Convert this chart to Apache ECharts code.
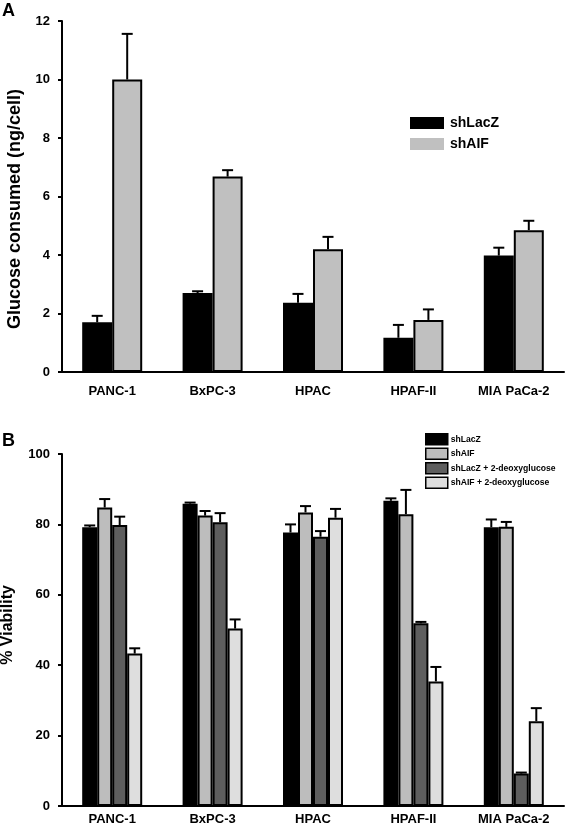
<!DOCTYPE html>
<html>
<head>
<meta charset="utf-8">
<script src="https://cdn.jsdelivr.net/npm/echarts@6/dist/echarts.min.js"></script>
<style>html,body{margin:0;padding:0;background:#fff;}#c{width:565px;height:831px;}</style>
</head>
<body>
<div id="c"></div>
<script>
const categories = ['PANC-1', 'BxPC-3', 'HPAC', 'HPAF-II', 'MIA PaCa-2'];

// Panel A: glucose consumed (ng/cell)
const glucoseTicks = [0, 2, 4, 6, 8, 10, 12];
const glucose_shLacZ = [1.7, 2.7, 2.37, 1.17, 3.98];
const glucose_shLacZ_err = [0.22, 0.06, 0.3, 0.44, 0.27];
const glucose_shAIF = [10.0, 6.68, 4.2, 1.78, 4.85];
const glucose_shAIF_err = [1.56, 0.22, 0.42, 0.36, 0.32];

// Panel B: % viability
const viabTicks = [0, 20, 40, 60, 80, 100];
const viab_shLacZ = [79.2, 85.9, 77.7, 86.7, 79.2];
const viab_shLacZ_err = [0.5, 0.3, 2.3, 0.7, 2.2];
const viab_shAIF = [84.8, 82.5, 83.4, 82.9, 79.3];
const viab_shAIF_err = [2.4, 1.3, 1.8, 6.9, 1.4];
const viab_shLacZ2DG = [79.8, 80.6, 76.5, 51.9, 9.2];
const viab_shLacZ2DG_err = [2.4, 2.6, 1.6, 0.4, 0.3];
const viab_shAIF2DG = [43.3, 50.4, 81.9, 35.4, 24.1];
const viab_shAIF2DG_err = [1.5, 2.6, 2.5, 4.1, 3.7];

const FONT = '"Liberation Sans", Arial, sans-serif';

function errSeries(vals, errs, offset, xi, yi) {
  return {
    type: 'custom', xAxisIndex: xi, yAxisIndex: yi, z: 5, silent: true,
    data: vals.map((v, i) => [i, v, errs[i]]),
    renderItem: (params, api) => {
      const b = api.coord([api.value(0), api.value(1)]);
      const t = api.coord([api.value(0), api.value(1) + api.value(2)]);
      const cx = b[0] + offset;
      return {
        type: 'group', children: [
          { type: 'line', shape: { x1: cx, y1: b[1], x2: cx, y2: t[1] }, style: { stroke: '#000', lineWidth: 2 } },
          { type: 'line', shape: { x1: cx - 5.5, y1: t[1], x2: cx + 5.5, y2: t[1] }, style: { stroke: '#000', lineWidth: 2 } }
        ]
      };
    }
  };
}

function barSeries(name, vals, color, width, xi, yi) {
  return {
    type: 'bar', name: name, xAxisIndex: xi, yAxisIndex: yi, data: vals,
    barWidth: width, barGap: '0%',
    itemStyle: { color: color, borderColor: '#000', borderWidth: 2 },
    z: 3
  };
}

function xAx(gi, margin) {
  return {
    type: 'category', gridIndex: gi, data: categories,
    axisLine: { lineStyle: { color: '#000', width: 2 } },
    axisTick: { alignWithLabel: true, length: 4, lineStyle: { color: '#000', width: 2 } },
    axisLabel: { color: '#000', fontWeight: 'bold', fontSize: 13, fontFamily: FONT, margin: margin, interval: 0 },
    splitLine: { show: false }
  };
}
function yAx(gi, ticks) {
  return {
    type: 'value', gridIndex: gi, min: ticks[0], max: ticks[ticks.length - 1],
    interval: ticks[1] - ticks[0],
    axisLine: { show: true, lineStyle: { color: '#000', width: 2 } },
    axisTick: { show: true, length: 4, lineStyle: { color: '#000', width: 2 } },
    axisLabel: { color: '#000', fontWeight: 'bold', fontSize: 13, fontFamily: FONT, margin: 12 },
    splitLine: { show: false }
  };
}

const chart = echarts.init(document.getElementById('c'), null, { renderer: 'canvas' });
chart.setOption({
  animation: false,
  backgroundColor: '#fff',
  grid: [
    { left: 62, top: 21, width: 502, height: 351 },
    { left: 62, top: 454, width: 502, height: 352 }
  ],
  xAxis: [xAx(0, 13), xAx(1, 7)],
  yAxis: [yAx(0, glucoseTicks), yAx(1, viabTicks)],
  legend: [
    {
      data: ['A:shLacZ', 'A:shAIF'], orient: 'vertical', left: 410, top: 116, padding: 0,
      itemWidth: 34, itemHeight: 12, itemGap: 7, icon: 'rect',
      formatter: n => n.split(':')[1],
      itemStyle: { borderWidth: 0 },
      textStyle: { color: '#000', fontWeight: 'bold', fontSize: 14, fontFamily: FONT, lineHeight: 12, padding: [0, 0, 0, 1] },
      selectedMode: false
    },
    {
      data: ['B:shLacZ', 'B:shAIF', 'B:shLacZ + 2-deoxyglucose', 'B:shAIF + 2-deoxyglucose'],
      orient: 'vertical', left: 425, top: 433, padding: 0,
      itemWidth: 22, itemHeight: 11, itemGap: 2, icon: 'rect',
      formatter: n => n.split(':')[1],
      itemStyle: { borderColor: '#000', borderWidth: 1.5 },
      textStyle: { color: '#000', fontWeight: 'bold', fontSize: 8.6, fontFamily: FONT, lineHeight: 11, padding: [0, 0, 0, -2] },
      selectedMode: false
    }
  ],
  graphic: [
    { type: 'text', left: 2, top: 2, style: { text: 'A', font: 'bold 18px ' + FONT, fill: '#000' } },
    { type: 'text', left: 2, top: 432, style: { text: 'B', font: 'bold 18px ' + FONT, fill: '#000' } },
    { type: 'text', x: 15, y: 209, rotation: Math.PI / 2,
      style: { text: 'Glucose consumed (ng/cell)', font: 'bold 18px ' + FONT, fill: '#000', align: 'center', verticalAlign: 'middle' } },
    { type: 'text', x: 8, y: 625, rotation: Math.PI / 2,
      style: { text: '% Viability', font: 'bold 16px ' + FONT, fill: '#000', align: 'center', verticalAlign: 'middle' } }
  ],
  series: [
    barSeries('A:shLacZ', glucose_shLacZ, '#000000', 30, 0, 0),
    barSeries('A:shAIF', glucose_shAIF, '#c0c0c0', 30, 0, 0),
    errSeries(glucose_shLacZ, glucose_shLacZ_err, -15, 0, 0),
    errSeries(glucose_shAIF, glucose_shAIF_err, 15, 0, 0),

    barSeries('B:shLacZ', viab_shLacZ, '#000000', 15, 1, 1),
    barSeries('B:shAIF', viab_shAIF, '#bdbdbd', 15, 1, 1),
    barSeries('B:shLacZ + 2-deoxyglucose', viab_shLacZ2DG, '#5e5e5e', 15, 1, 1),
    barSeries('B:shAIF + 2-deoxyglucose', viab_shAIF2DG, '#dedede', 15, 1, 1),
    errSeries(viab_shLacZ, viab_shLacZ_err, -22.5, 1, 1),
    errSeries(viab_shAIF, viab_shAIF_err, -7.5, 1, 1),
    errSeries(viab_shLacZ2DG, viab_shLacZ2DG_err, 7.5, 1, 1),
    errSeries(viab_shAIF2DG, viab_shAIF2DG_err, 22.5, 1, 1)
  ]
});
</script>
</body>
</html>
